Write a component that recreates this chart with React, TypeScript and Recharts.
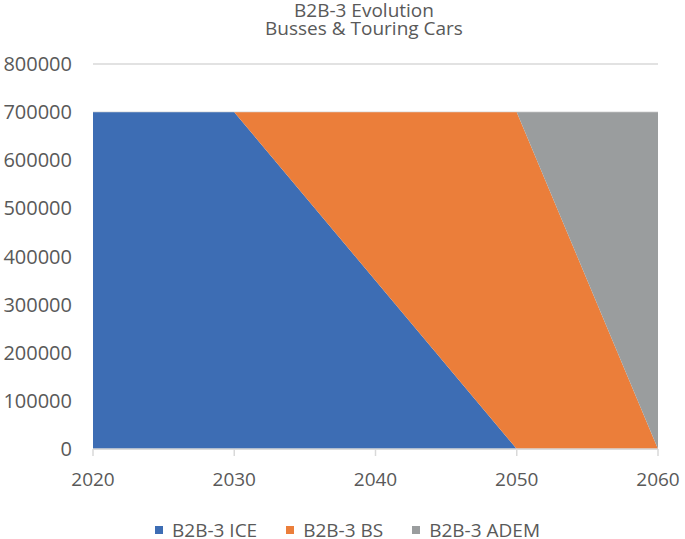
import React from "react";
import { AreaChart, Area, XAxis, YAxis, CartesianGrid } from "recharts";

const years = [2020, 2030, 2050, 2060];
const iceValues = [700000, 700000, 0, 0];
const bsValues = [0, 0, 700000, 0];
const ademValues = [0, 0, 0, 700000];
const xTicks = [2020, 2030, 2040, 2050, 2060];
const yTicks = [0, 100000, 200000, 300000, 400000, 500000, 600000, 700000, 800000];
const titleLines = ["B2B-3 Evolution", "Busses & Touring Cars"];

const series = [
  { key: "ice", name: "B2B-3 ICE", color: "#3d6db4" },
  { key: "bs", name: "B2B-3 BS", color: "#eb7e3a" },
  { key: "adem", name: "B2B-3 ADEM", color: "#9a9d9e" },
];

const data = years.map((y, i) => ({
  year: y,
  ice: iceValues[i],
  bs: bsValues[i],
  adem: ademValues[i],
}));

const FONT = "'Open Sans', sans-serif";
const TEXT = "#595959";

export default function App() {
  return (
    <div
      style={{
        position: "fixed",
        left: 0,
        top: 0,
        width: 685,
        height: 539,
        overflow: "hidden",
        fontFamily: FONT,
        background: "#ffffff",
      }}
    >
      {titleLines.map((t, i) => (
        <div
          key={t}
          style={{
            position: "absolute",
            left: 164,
            top: 2 + i * 18,
            width: 400,
            height: 17,
            textAlign: "center",
            fontSize: 19,
            lineHeight: "17px",
            color: TEXT,
            whiteSpace: "nowrap",
          }}
        >
          {t}
        </div>
      ))}
      <div style={{ position: "absolute", left: 0, top: 0 }}>
        <AreaChart
          width={685}
          height={539}
          data={data}
          margin={{ top: 64, right: 27, bottom: 50, left: 0 }}
        >
          <CartesianGrid vertical={false} stroke="#d9d9d9" strokeWidth={1.5} />
          <XAxis
            dataKey="year"
            type="number"
            domain={[2020, 2060]}
            ticks={xTicks}
            height={40}
            tickSize={7}
            tickMargin={17}
            axisLine={{ stroke: "#d9d9d9", strokeWidth: 1.5 }}
            tickLine={{ stroke: "#d9d9d9", strokeWidth: 1.5 }}
            tick={{ fill: TEXT, fontSize: 19, fontFamily: FONT }}
          />
          <YAxis
            type="number"
            domain={[0, 800000]}
            ticks={yTicks}
            width={93}
            tickSize={0}
            tickMargin={21}
            axisLine={false}
            tickLine={false}
            tick={{ fill: TEXT, fontSize: 20, fontFamily: FONT }}
          />
          {series.map((s) => (
            <Area
              key={s.key}
              type="linear"
              dataKey={s.key}
              name={s.name}
              stackId="1"
              stroke="none"
              fill={s.color}
              fillOpacity={1}
              isAnimationActive={false}
            />
          ))}
        </AreaChart>
      </div>
      <div
        style={{
          position: "absolute",
          left: 155,
          top: 522,
          height: 16,
          display: "flex",
          alignItems: "center",
          fontSize: 19,
          lineHeight: "16px",
          color: TEXT,
          whiteSpace: "nowrap",
        }}
      >
        {series.map((s) => (
          <div key={s.key} style={{ display: "flex", alignItems: "center", marginRight: 29 }}>
            <div style={{ width: 8, height: 8, background: s.color, marginRight: 9 }} />
            <span>{s.name}</span>
          </div>
        ))}
      </div>
    </div>
  );
}
